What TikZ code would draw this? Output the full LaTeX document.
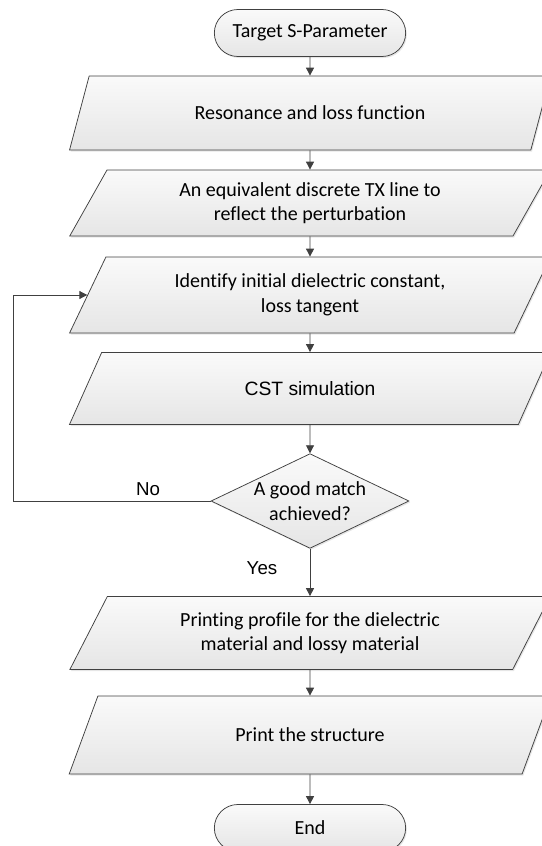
\documentclass[tikz,border=0pt]{standalone}
\usepackage{fontspec}
\setmainfont{Carlito}[Ligatures=NoCommon]
\newfontfamily\arialfont{Liberation Sans}
\usepackage{xcolor}
\usepackage{tikz}
\usetikzlibrary{arrows.meta}
\usetikzlibrary{shapes.geometric, shapes.misc, shadows}

\definecolor{bordo}{HTML}{404040}

\begin{document}
\begin{tikzpicture}[>={Triangle[length=8pt, width=8pt]}, x=1pt, y=-1pt,
  font=\fontsize{20}{24.5}\selectfont,
  ombra/.style={drop shadow={opacity=0.2, shadow xshift=1.2pt, shadow yshift=-1.5pt}},
  terminale/.style={rounded rectangle, draw=bordo, line width=0.75pt, top color=white!98!black,
    bottom color=white!90!black, minimum width=198pt, minimum height=47pt, ombra},
  dati/.style={trapezium, trapezium left angle=63, trapezium right angle=117,
    trapezium stretches=true, draw=bordo, line width=0.75pt, top color=white!98!black,
    bottom color=white!90!black, minimum width=482pt, align=center, ombra},
  decisione/.style={diamond, aspect=2, inner sep=0pt, draw=bordo, line width=0.75pt,
    top color=white!98!black, bottom color=white!90!black, minimum width=198pt,
    minimum height=94pt, align=center, ombra},
  freccia/.style={->, draw=bordo, line width=0.9pt},
  etichetta/.style={font=\arialfont\fontsize{18.7}{22}\selectfont}]

  % 0. Area dell'immagine
  \useasboundingbox (0, 0) rectangle (541, 846);

  % 1. Inizio e blocchi di elaborazione
  \node[terminale] (start) at (310, 33) {Target S-Parameter};
  \node[dati, minimum height=74pt] (reson) at (310, 113) {Resonance and loss function};
  \node[dati, minimum height=66pt] (equiv) at (310, 203)
    {An equivalent discrete TX line to\\reflect the perturbation};
  \node[dati, minimum height=76pt] (ident) at (310, 295)
    {Identify initial dielectric constant,\\loss tangent};
  \node[dati, minimum height=72pt, font=\arialfont\fontsize{19.3}{23}\selectfont]
    (cst) at (310, 388.5) {CST simulation};

  % 2. Decisione
  \node[decisione] (match) at (310, 501) {A good match\\achieved?};

  % 3. Stampa e fine
  \node[dati, minimum height=73pt] (profile) at (310, 633)
    {Printing profile for the dielectric\\material and lossy material};
  \node[dati, minimum height=78pt] (print) at (310, 735) {Print the structure};
  \node[terminale] (end) at (310, 828) {End};

  % 4. Frecce verticali
  \draw[freccia] (start) -- (reson);
  \draw[freccia] (reson) -- (equiv);
  \draw[freccia] (equiv) -- (ident);
  \draw[freccia] (ident) -- (cst);
  \draw[freccia] (cst) -- (match);
  \draw[freccia] (match) -- (profile);
  \draw[freccia] (profile) -- (print);
  \draw[freccia] (print) -- (end);

  % 5. Ritorno "No" verso l'identificazione
  \coordinate (giro) at (13, 0);
  \draw[freccia] (match.west) -- (match.west -| giro) |- (ident.west);

  % 6. Etichette
  \node[etichetta] (no) at (148, 489) {No};
  \node[etichetta] (yes) at (262, 568) {Yes};

\end{tikzpicture}
\end{document}
